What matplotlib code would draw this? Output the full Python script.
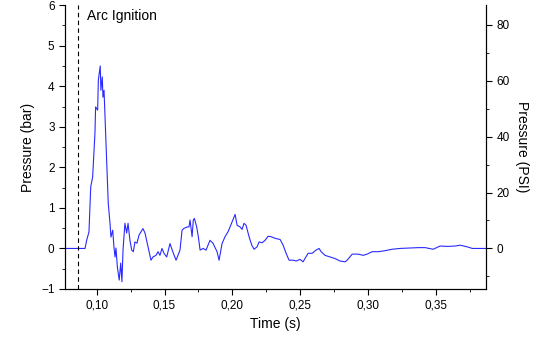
import matplotlib
matplotlib.use("Agg")
import matplotlib.pyplot as plt
from matplotlib.ticker import MultipleLocator, FuncFormatter

# pressure trace (time in s, pressure in bar)
time_s = [0.0760, 0.0914, 0.0926, 0.0943, 0.0956, 0.0970, 0.0987, 0.0992, 0.1007, 0.1012,
          0.1026, 0.1031, 0.1041, 0.1046, 0.1054, 0.1068, 0.1085, 0.1098, 0.1105, 0.1118,
          0.1127, 0.1135, 0.1142, 0.1152, 0.1166, 0.1177, 0.1186, 0.1194, 0.1208, 0.1221,
          0.1231, 0.1245, 0.1258, 0.1270, 0.1282, 0.1297, 0.1312, 0.1341, 0.1356, 0.1378,
          0.1400, 0.1415, 0.1437, 0.1452, 0.1466, 0.1481, 0.1496, 0.1516, 0.1540, 0.1565,
          0.1585, 0.1614, 0.1629, 0.1641, 0.1666, 0.1680, 0.1688, 0.1703, 0.1712, 0.1720,
          0.1737, 0.1749, 0.1762, 0.1784, 0.1806, 0.1835, 0.1857, 0.1887, 0.1902, 0.1924,
          0.1946, 0.1968, 0.1983, 0.2020, 0.2035, 0.2057, 0.2071, 0.2086, 0.2101, 0.2123,
          0.2143, 0.2160, 0.2182, 0.2197, 0.2219, 0.2241, 0.2263, 0.2285, 0.2315, 0.2352,
          0.2374, 0.2396, 0.2418, 0.2448, 0.2470, 0.2499, 0.2521, 0.2558, 0.2588, 0.2617,
          0.2639, 0.2654, 0.2683, 0.2720, 0.2757, 0.2794, 0.2831, 0.2846, 0.2883, 0.2927,
          0.2964, 0.2993, 0.3030, 0.3074, 0.3118, 0.3177, 0.3236, 0.3310, 0.3369, 0.3421,
          0.3480, 0.3531, 0.3590, 0.3642, 0.3679, 0.3731, 0.3768, 0.3880]
pressure_bar = [0.00, 0.00, 0.20, 0.41, 1.52, 1.76, 2.84, 3.49, 3.41, 4.15,
                4.50, 3.90, 4.23, 3.73, 3.90, 2.67, 1.12, 0.62, 0.28, 0.45,
                0.04, -0.21, 0.01, -0.45, -0.78, -0.36, -0.82, -0.04, 0.62, 0.38,
                0.62, 0.20, -0.04, -0.08, 0.16, 0.13, 0.33, 0.49, 0.38, 0.04,
                -0.29, -0.21, -0.17, -0.08, -0.17, 0.00, -0.12, -0.21, 0.12, -0.12,
                -0.29, -0.04, 0.45, 0.49, 0.53, 0.53, 0.70, 0.29, 0.70, 0.74,
                0.53, 0.29, -0.04, 0.00, -0.04, 0.20, 0.13, -0.08, -0.29, 0.12,
                0.29, 0.41, 0.53, 0.84, 0.57, 0.53, 0.47, 0.62, 0.57, 0.29,
                0.08, -0.02, 0.04, 0.16, 0.14, 0.20, 0.30, 0.29, 0.25, 0.22,
                0.08, -0.12, -0.29, -0.29, -0.31, -0.27, -0.33, -0.12, -0.12, -0.04,
                0.00, -0.08, -0.17, -0.21, -0.25, -0.31, -0.33, -0.29, -0.14, -0.14,
                -0.17, -0.14, -0.08, -0.08, -0.06, -0.02, 0.00, 0.01, 0.02, 0.02,
                -0.02, 0.06, 0.05, 0.06, 0.08, 0.04, 0.00, 0.00]

ignition_t = 0.0864
bar_to_psi = 14.5038

plt.rcParams['font.family'] = ['Liberation Sans', 'DejaVu Sans']

fig = plt.figure(figsize=(5.6, 3.41), dpi=100)
ax = fig.add_axes([0.116, 0.1525, 0.752, 0.8325])
ax.plot(time_s, pressure_bar, color="#2a2aff", lw=0.8)
ax.axvline(ignition_t, color="black", lw=0.8, ls=(0, (4, 3)))
ax.text(0.0928, 5.72, "Arc Ignition", fontsize=10, va="center")

ax.set_xlim(0.0766, 0.387)
ax.set_ylim(-1, 6)
ax.xaxis.set_major_locator(MultipleLocator(0.05))
ax.xaxis.set_minor_locator(MultipleLocator(0.025))
ax.xaxis.set_major_formatter(FuncFormatter(lambda v, p: f"{v:.2f}".replace(".", ",")))
ax.yaxis.set_major_locator(MultipleLocator(1))
ax.yaxis.set_minor_locator(MultipleLocator(0.5))
ax.spines["top"].set_visible(False)
ax.tick_params(which="both", direction="out", labelsize=8.5)
ax.tick_params(which="major", length=4)
ax.tick_params(which="minor", length=2.5)
ax.set_xlabel("Time (s)", fontsize=10)
ax.set_ylabel("Pressure (bar)", fontsize=10)

ax2 = ax.twinx()
ax2.set_ylim(-1 * bar_to_psi, 6 * bar_to_psi)
ax2.yaxis.set_major_locator(MultipleLocator(20))
ax2.yaxis.set_minor_locator(MultipleLocator(10))
ax2.spines["top"].set_visible(False)
ax2.tick_params(which="both", direction="out", labelsize=8.5)
ax2.tick_params(which="major", length=4)
ax2.tick_params(which="minor", length=2.5)
ax2.set_ylabel("Pressure (PSI)", fontsize=10, rotation=270, labelpad=14)

fig.savefig("out.png", dpi=100)
